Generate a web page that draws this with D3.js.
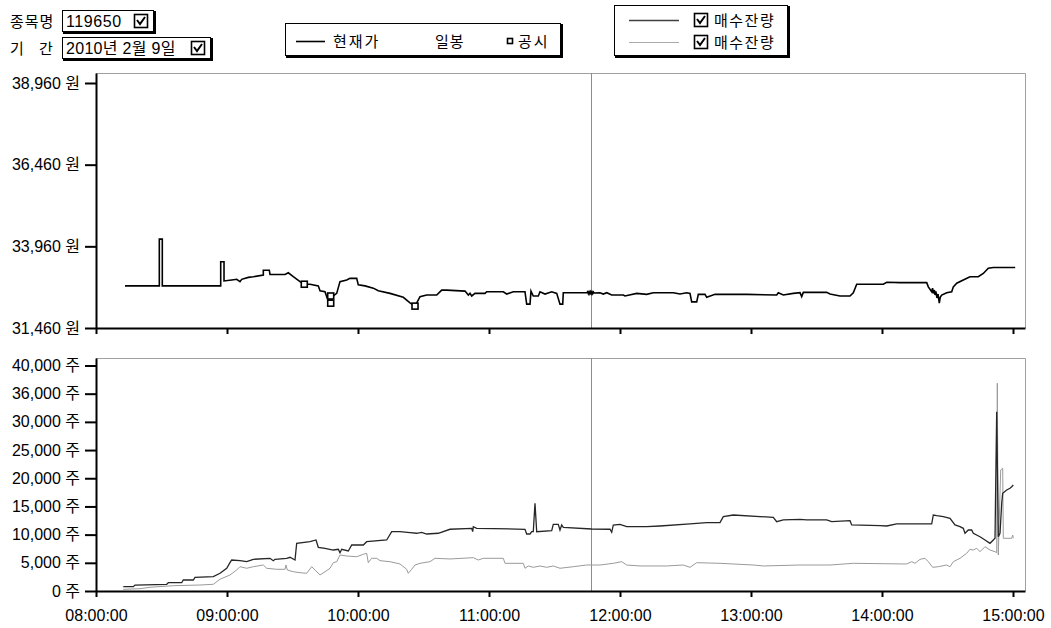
<!DOCTYPE html>
<html>
<head>
<meta charset="utf-8">
<script src="https://cdn.jsdelivr.net/npm/d3@7"></script>
<style>
body { margin: 0; background: #fff; }
text { font-family: "Liberation Sans", "Noto Sans CJK KR", sans-serif; fill: #000; }
</style>
</head>
<body>
<svg id="chart" width="1051" height="628"></svg>
<script>
// 현재가 (price) line
var priceTimes = ["08:13:17","08:29:00","08:29:00","08:30:22","08:30:22","08:57:07","08:57:07","08:58:38","08:58:38",
  "09:02:09","09:04:27","09:05:57","09:06:44","09:09:45","09:12:03","09:16:38","09:16:38","09:19:22","09:19:42",
  "09:26:34","09:28:05","09:30:22","09:33:26","09:35:24","09:38:01","09:41:49","09:42:36","09:44:53","09:45:56",
  "09:47:30","09:48:41","09:50:15","09:51:45","09:54:50","09:56:20","09:59:24","10:00:08","10:03:13","10:07:01",
  "10:09:18","10:14:40","10:20:45","10:23:49","10:26:07","10:28:24","10:31:28","10:36:03","10:38:20","10:40:38",
  "10:49:01","10:50:32","10:51:18","10:52:05","10:53:35","10:58:10","10:58:57","11:06:33","11:08:07","11:11:08",
  "11:16:29","11:17:16","11:18:47","11:19:14","11:20:17","11:22:35","11:23:22","11:25:39","11:28:43","11:31:01",
  "11:32:31","11:33:46","11:34:02","11:44:45","11:45:10","11:45:30","11:45:50","11:46:10","11:46:30","11:46:50",
  "11:47:10","11:47:30","11:47:50","11:48:10","11:50:50","11:52:21","11:53:55","11:56:12","12:01:31","12:02:17",
  "12:07:39","12:12:14","12:15:16","12:24:25","12:27:29","12:30:33","12:32:04","12:32:50","12:35:08","12:35:52",
  "12:38:56","12:39:43","12:43:31","12:58:02","13:11:46","13:12:31","13:14:48","13:19:23","13:22:27","13:23:13",
  "13:23:58","13:34:40","13:36:11","13:40:46","13:45:21","13:46:52","13:48:25","14:00:36","14:02:10","14:08:15",
  "14:20:29","14:21:13","14:22:46","14:23:10","14:23:30","14:24:00","14:24:17","14:24:40","14:25:10","14:25:40",
  "14:26:15","14:26:40","14:27:21","14:29:38","14:31:56","14:32:40","14:34:13","14:37:14","14:40:18","14:44:07",
  "14:46:24","14:48:41","14:50:59","15:01:00"];
var prices = [32750,32750,34180,34180,32750,32750,33490,33490,32900,
  32930,32950,32880,32950,33010,33030,33080,33230,33230,33100,
  33100,33150,33030,32880,32800,32800,32750,32600,32570,32370,
  32260,32440,32520,32880,32930,32980,32980,32780,32750,32680,
  32600,32520,32400,32230,32130,32420,32470,32470,32620,32620,
  32590,32470,32520,32440,32520,32520,32570,32570,32500,32570,
  32570,32190,32190,32590,32440,32440,32570,32500,32570,32520,
  32190,32190,32540,32540,32570,32510,32570,32510,32570,32510,
  32570,32510,32560,32530,32540,32500,32540,32470,32470,32440,
  32520,32490,32540,32540,32500,32540,32520,32260,32260,32490,
  32490,32400,32490,32490,32470,32540,32470,32520,32540,32420,
  32550,32550,32500,32440,32440,32540,32800,32800,32860,32850,
  32850,32720,32570,32680,32520,32620,32470,32580,32380,32500,
  32220,32400,32470,32540,32570,32720,32830,32930,33030,33030,
  33130,33290,33310,33310];

// 공시 markers
var gongsiTimes = ["09:35:24","09:47:30","09:47:30","10:26:07"];
var gongsiPrices = [32800, 32440, 32220, 32130];

// 매수잔량 (dark)
var bidTimes1 = ["08:12:30","08:17:05","08:17:52","08:32:23","08:33:07","08:39:15","08:39:59","08:44:34","08:45:21",
  "08:53:44","08:56:48","08:59:52","09:01:22","09:02:09","09:05:57","09:09:01","09:12:03","09:19:42","09:21:13",
  "09:21:59","09:27:21","09:28:51","09:31:09","09:31:55","09:38:01","09:40:46","09:41:49","09:44:53","09:48:41",
  "09:50:59","09:51:45","09:52:32","09:55:34","09:57:07","10:02:26","10:03:59","10:13:09","10:15:26","10:19:14",
  "10:23:49","10:26:53","10:29:11","10:31:28","10:36:47","10:42:08","10:52:05","10:52:32","10:52:49","10:54:22",
  "11:16:29","11:17:16","11:18:47","11:19:34","11:20:17","11:21:04","11:21:51","11:28:43","11:29:27","11:31:44",
  "11:32:31","11:33:18","11:34:02","11:47:02","11:55:25","11:56:12","11:56:56","12:00:00","12:03:04","12:12:14",
  "12:18:19","12:32:04","12:39:43","12:45:48","12:47:19","12:51:54","13:10:13","13:11:46","13:14:48","13:22:27",
  "13:25:31","13:34:40","13:36:58","13:45:21","13:46:08","13:59:05","14:02:10","14:06:44","14:20:29","14:22:46",
  "14:23:30","14:25:04","14:28:05","14:31:09","14:33:26","14:35:44","14:37:14","14:38:01","14:39:32","14:41:05",
  "14:41:50","14:44:53","14:47:11","14:49:28","14:50:59","14:51:46","14:52:32","14:53:16","14:54:03","14:54:50",
  "14:55:17","14:57:07","14:58:38","14:59:25","15:00:08"];
var bidVol1 = [760,760,1060,1190,1470,1470,1950,1950,2430,
  2540,3140,4030,5020,5500,5380,5200,5620,5800,5380,
  5620,5800,5980,5500,8460,8750,9050,7750,7580,7270,
  7400,6790,7400,7100,8160,8160,8750,9050,10520,10520,
  10340,10240,10410,10110,10240,10950,11120,10520,11410,11120,
  10950,10110,10110,10520,10520,15560,10520,10700,11830,11830,
  10820,11710,11300,11000,10950,10410,11710,11830,11410,11410,
  11530,11890,12120,12120,13180,13480,13070,12290,12600,12720,
  12600,12600,12290,12470,11710,11580,11530,11890,11890,11890,
  13480,13360,13180,12900,11710,11410,11120,10240,10820,10820,
  10240,9630,9050,8460,9050,9350,31800,9630,10240,15560,
  17330,17920,18220,18500,18800];

// 매수잔량 (light)
var bidTimes2 = ["08:12:30","08:20:09","08:24:44","08:35:24","08:47:38","08:53:44","08:56:48","09:01:22","09:04:27",
  "09:05:57","09:09:01","09:12:03","09:16:38","09:18:11","09:22:46","09:26:34","09:27:01","09:27:37","09:30:22",
  "09:33:26","09:36:30","09:38:47","09:40:19","09:42:36","09:44:53","09:47:11","09:48:41","09:50:15","09:51:45",
  "09:54:50","09:59:24","10:02:26","10:03:59","10:04:43","10:06:17","10:08:34","10:10:05","10:14:40","10:19:14",
  "10:22:18","10:23:02","10:24:36","10:26:07","10:28:24","10:32:59","10:35:16","10:42:08","10:52:49","10:55:06",
  "10:57:23","11:06:33","11:07:20","11:15:43","11:16:29","11:18:00","11:20:17","11:23:22","11:26:26","11:29:27",
  "11:32:31","11:38:37","11:44:45","11:50:50","11:56:56","12:00:47","12:03:04","12:09:10","12:21:23","12:29:00",
  "12:32:04","12:35:08","12:45:48","13:01:04","13:05:38","13:22:27","13:36:11","13:46:52","14:11:19","14:13:37",
  "14:15:07","14:17:25","14:19:42","14:21:13","14:23:14","14:25:47","14:29:38","14:31:09","14:32:40","14:35:44",
  "14:38:48","14:40:18","14:41:50","14:43:23","14:44:53","14:47:11","14:49:28","14:51:46","14:52:32","14:52:49",
  "14:53:16","14:54:22","14:55:17","14:55:34","14:59:25","14:59:52","15:00:08"];
var bidVol2 = [300,410,660,940,1060,1190,2080,2840,3730,
  4310,4030,4310,4610,4030,3850,3850,4610,3730,3420,
  3250,3140,4310,3730,2840,3420,4030,5020,5200,6390,
  6210,6080,6510,6690,5020,5800,5800,5380,5200,4790,
  3850,3140,3850,4610,4910,5200,5800,5680,5910,5500,
  5800,5800,4910,4910,4030,4440,4200,4440,4200,4440,
  4030,4310,4610,4610,4910,5200,4610,4440,4440,4610,
  4200,5020,4910,4610,4440,4610,4610,4910,4790,5200,
  4910,5620,5800,5200,4200,4310,4610,4310,5200,5800,
  6690,7400,7270,7580,6970,7860,7270,6970,6790,36850,
  6390,21470,21770,9350,9350,9930,9350];

var priceTicks = [31460, 33960, 36460, 38960];
var priceTickLabels = ["31,460 원", "33,960 원", "36,460 원", "38,960 원"];
var volTicks = [0, 5000, 10000, 15000, 20000, 25000, 30000, 35000, 40000];
var volTickLabels = ["0 주", "5,000 주", "10,000 주", "15,000 주", "20,000 주", "25,000 주", "30,000 주", "36,000 주", "40,000 주"];
var hourTicks = ["08:00:00","09:00:00","10:00:00","11:00:00","12:00:00","13:00:00","14:00:00","15:00:00"];
var cursorTime = "11:46:43";

var parseTime = d3.timeParse("%H:%M:%S");
var plotLeft = 96, plotRight = 1025;
var top1 = 73, bottom1 = 328;
var top2 = 358, bottom2 = 591;

var svg = d3.select("#chart");

var x = d3.scaleTime()
  .domain([parseTime("08:00:00"), parseTime("15:05:30")])
  .range([plotLeft, plotRight]);
var yPrice = d3.scaleLinear().domain([31460, 39266]).range([bottom1, top1]);
var yVol = d3.scaleLinear().domain([0, 41330]).range([bottom2, top2]);

function toRows(times, vals) {
  return times.map(function(t, i) { return {t: parseTime(t), v: vals[i]}; });
}

// frames: gray top and right edge
function frame(top, bottom) {
  svg.append("path")
    .attr("d", "M" + plotLeft + "," + (top + 0.5) + "H" + (plotRight + 0.5) + "V" + bottom)
    .attr("fill", "none")
    .attr("stroke", "#a0a0a0")
    .attr("stroke-width", 1);
}
frame(top1, bottom1);
frame(top2, bottom2);

// vertical cursor line in both panels
var cx = Math.round(x(parseTime(cursorTime))) + 0.5;
[[top1, bottom1], [top2, bottom2]].forEach(function(p) {
  svg.append("line")
    .attr("x1", cx).attr("x2", cx).attr("y1", p[0]).attr("y2", p[1])
    .attr("stroke", "#8c8c8c").attr("stroke-width", 1);
});

// price line
var priceLine = d3.line().x(d => x(d.t)).y(d => yPrice(d.v));
svg.append("path")
  .datum(toRows(priceTimes, prices))
  .attr("d", priceLine)
  .attr("fill", "none")
  .attr("stroke", "#000")
  .attr("stroke-width", 1.6);

svg.selectAll(".gongsi")
  .data(toRows(gongsiTimes, gongsiPrices))
  .enter().append("rect")
  .attr("class", "gongsi")
  .attr("x", d => x(d.t) - 3)
  .attr("y", d => yPrice(d.v) - 3)
  .attr("width", 6)
  .attr("height", 6)
  .attr("fill", "#fff")
  .attr("stroke", "#000")
  .attr("stroke-width", 1.6);

// volume lines
var volLine = d3.line().x(d => x(d.t)).y(d => yVol(d.v));
svg.append("path")
  .datum(toRows(bidTimes2, bidVol2))
  .attr("d", volLine)
  .attr("fill", "none")
  .attr("stroke", "#9a9a9a")
  .attr("stroke-width", 1);
svg.append("path")
  .datum(toRows(bidTimes1, bidVol1))
  .attr("d", volLine)
  .attr("fill", "none")
  .attr("stroke", "#262626")
  .attr("stroke-width", 1.3);

// axes
function styleAxis(g) {
  g.attr("font-size", 16).attr("font-family", null);
  g.select(".domain").attr("stroke", "#000").attr("stroke-width", 2);
  g.selectAll(".tick line").attr("stroke", "#000").attr("stroke-width", 2);
  g.selectAll(".tick text").attr("fill", "#000");
}

svg.append("g")
  .attr("transform", "translate(" + plotLeft + ",0)")
  .call(d3.axisLeft(yPrice).tickValues(priceTicks)
    .tickFormat((d, i) => priceTickLabels[i]).tickSize(11).tickSizeOuter(0).tickPadding(5))
  .call(styleAxis);

svg.append("g")
  .attr("transform", "translate(0," + bottom1 + ")")
  .call(d3.axisBottom(x).tickValues(hourTicks.map(parseTime))
    .tickFormat("").tickSize(6).tickSizeOuter(0))
  .call(styleAxis);

svg.append("g")
  .attr("transform", "translate(" + plotLeft + ",0)")
  .call(d3.axisLeft(yVol).tickValues(volTicks)
    .tickFormat((d, i) => volTickLabels[i]).tickSize(11).tickSizeOuter(0).tickPadding(5))
  .call(styleAxis);

svg.append("g")
  .attr("transform", "translate(0," + bottom2 + ")")
  .call(d3.axisBottom(x).tickValues(hourTicks.map(parseTime))
    .tickFormat((d, i) => hourTicks[i]).tickSize(6).tickSizeOuter(0).tickPadding(13))
  .call(styleAxis);

// boxes and checkboxes on top
function shadowBox(x0, y0, w, h) {
  svg.append("rect")
    .attr("x", x0 + 0.5).attr("y", y0 + 0.5).attr("width", w).attr("height", h)
    .attr("fill", "#fff").attr("stroke", "#000").attr("stroke-width", 1);
  svg.append("path")
    .attr("d", "M" + (x0 + w + 2) + "," + (y0 + 1) + "V" + (y0 + h + 2) + "H" + (x0 + 1))
    .attr("fill", "none").attr("stroke", "#000").attr("stroke-width", 2);
}
function checkBox(x0, y0) {
  svg.append("rect")
    .attr("x", x0 + 0.5).attr("y", y0 + 0.5).attr("width", 13).attr("height", 13)
    .attr("fill", "#fff").attr("stroke", "#000").attr("stroke-width", 1.6);
  svg.append("path")
    .attr("d", "M" + (x0 + 3) + "," + (y0 + 6) + "L" + (x0 + 6) + "," + (y0 + 10) + "L" + (x0 + 11) + "," + (y0 + 3))
    .attr("fill", "none").attr("stroke", "#000").attr("stroke-width", 2);
}
function label(txt, x0, y0, size, spacing) {
  svg.append("text")
    .attr("x", x0).attr("y", y0)
    .attr("font-size", size || 16)
    .attr("letter-spacing", spacing || 0)
    .text(txt);
}

label("종목명", 10, 27, 15, 1);
shadowBox(62, 10, 91, 21);
label("119650", 66, 27, 16, 0.6);
checkBox(134, 14);

label("기", 10, 54, 15);
label("간", 39, 54, 15);
shadowBox(62, 37, 148, 21);
label("2010년 2월 9일", 66, 54, 16, 0.3);
checkBox(191, 41);

// legend 1
shadowBox(285, 23, 275, 32);
svg.append("line").attr("x1", 296).attr("x2", 325).attr("y1", 41.5).attr("y2", 41.5)
  .attr("stroke", "#000").attr("stroke-width", 1.6);
label("현재가", 333, 47, 15, 2);
label("일봉", 435, 47, 15, 1);
svg.append("rect").attr("x", 507.5).attr("y", 38.5).attr("width", 5).attr("height", 5)
  .attr("fill", "#fff").attr("stroke", "#000").attr("stroke-width", 1.6);
label("공시", 518, 47, 15, 2);

// legend 2
shadowBox(614, 5, 173, 50);
svg.append("line").attr("x1", 629).attr("x2", 679).attr("y1", 20.5).attr("y2", 20.5)
  .attr("stroke", "#404040").attr("stroke-width", 1.3);
svg.append("line").attr("x1", 629).attr("x2", 679).attr("y1", 42.5).attr("y2", 42.5)
  .attr("stroke", "#aaaaaa").attr("stroke-width", 1);
checkBox(694, 13);
checkBox(694, 35);
label("매수잔량", 714, 26, 15, 1.5);
label("매수잔량", 714, 48, 15, 1.5);
</script>
</body>
</html>
